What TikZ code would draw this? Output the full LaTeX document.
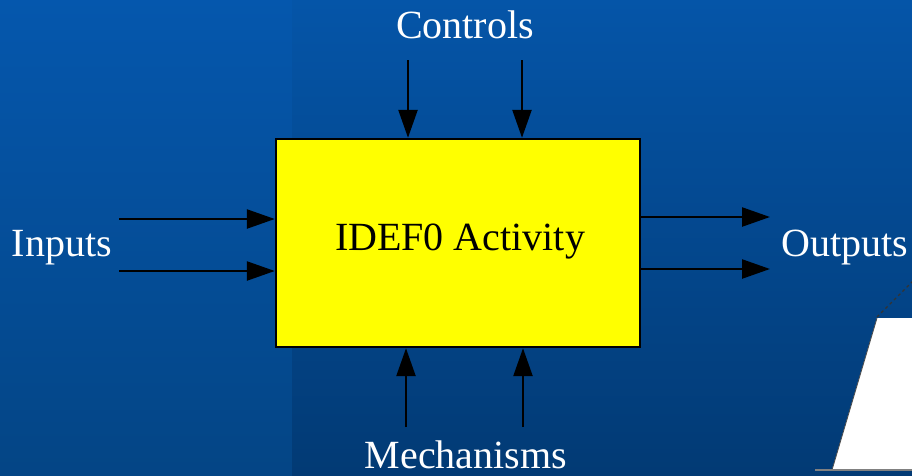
\documentclass[tikz,border=0pt]{standalone}
\usepackage{fontspec}
\setmainfont{Liberation Serif}
\usetikzlibrary{arrows.meta}
\definecolor{bgtopL}{HTML}{0557AD}
\definecolor{bgbotL}{HTML}{044585}
\definecolor{bgtopR}{HTML}{0555A8}
\definecolor{bgbotR}{HTML}{023A74}
\definecolor{actfill}{HTML}{FFFF00}
\tikzset{
  flow/.style={line width=2.4pt, -{Triangle[length=28pt,width=19pt]}},
  lbl/.style={anchor=base, text=white, font=\fontsize{40}{40}\selectfont, inner sep=0pt},
  actbox/.style={draw=black, line width=2.4pt, fill=actfill, minimum width=364pt, minimum height=208pt, inner sep=0pt}
}
\begin{document}
\begin{tikzpicture}[x=1pt,y=-1pt]
\useasboundingbox (0,0) rectangle (912,475);
\clip (0,0) rectangle (912,475);
% slide background: two vertical gradient panels
\shade[top color=bgtopL, bottom color=bgbotL] (0,0) rectangle (292,475);
\shade[top color=bgtopR, bottom color=bgbotR] (292,0) rectangle (912,475);
% partially visible white shape at the lower right
\fill[white] (877,318) -- (930,318) -- (930,470) -- (832,470) -- cycle;
\draw[black!70, line width=0.8pt] (832,470) -- (877,318);
\draw[black!80, line width=1.2pt, dash pattern=on 3pt off 3pt] (877,317) -- (925,269);
\draw[gray, line width=1.2pt] (815,470) -- (930,470);

% activity box
\node[actbox] (box) at (458,243) {};
\node[anchor=base, inner sep=0pt, font=\fontsize{40}{40}\selectfont] (act) at (460,250) {IDEF0 Activity};

% labels
\node[lbl] (ctl) at (465,38) {Controls};
\node[lbl] (inp) at (62,256) {Inputs};
\node[lbl] (out) at (845,256) {Outputs};
\node[lbl] (mech) at (466,468) {Mechanisms};

% free ends of the arrows
\coordinate (c1) at (408,60);
\coordinate (c2) at (522,60);
\coordinate (i1) at (119,219);
\coordinate (i2) at (119,271);
\coordinate (o1) at (770,217);
\coordinate (o2) at (770,269);
\coordinate (m1) at (406,427);
\coordinate (m2) at (523,427);

\draw[flow] (c1) -- (c1 |- box.north);
\draw[flow] (c2) -- (c2 |- box.north);
\draw[flow] (i1) -- (i1 -| box.west);
\draw[flow] (i2) -- (i2 -| box.west);
\draw[flow] (o1 -| box.east) -- (o1);
\draw[flow] (o2 -| box.east) -- (o2);
\draw[flow] (m1) -- (m1 |- box.south);
\draw[flow] (m2) -- (m2 |- box.south);
\end{tikzpicture}
\end{document}
